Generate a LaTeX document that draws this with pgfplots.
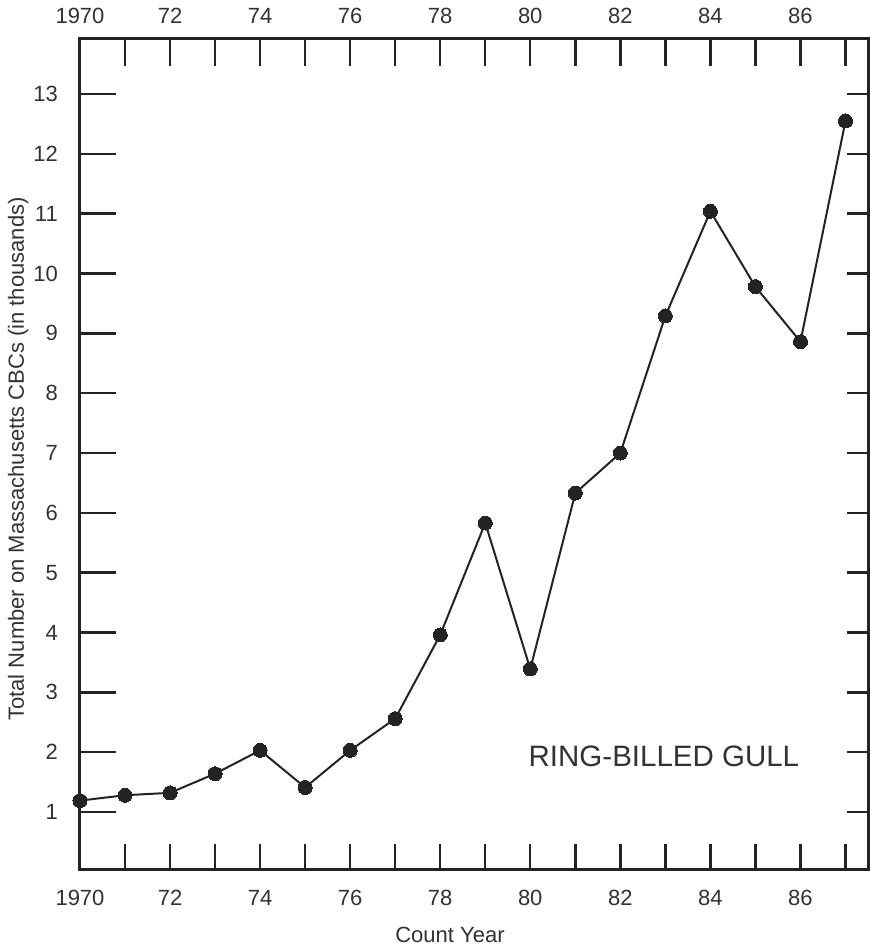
\documentclass[border=0pt]{standalone}
\usepackage{pgfplots}
\pgfplotsset{compat=1.18}
\usepackage{fontspec}
\setmainfont{Liberation Sans}
\definecolor{ink}{RGB}{35,35,35}
\definecolor{txt}{RGB}{50,50,50}
\pgfplotstableread{
year value
1970 1.19
1971 1.28
1972 1.32
1973 1.64
1974 2.03
1975 1.41
1976 2.03
1977 2.56
1978 3.96
1979 5.83
1980 3.39
1981 6.33
1982 7.00
1983 9.29
1984 11.04
1985 9.78
1986 8.86
1987 12.55
}\gulls
\begin{document}
\begin{tikzpicture}[font=\fontsize{22}{26}\selectfont]
\pgfplotsset{
  base/.style={
    scale only axis, width=788pt, height=830pt,
    xmin=1970, xmax=1987.5, ymin=0.047, ymax=13.92,
    axis line style={draw=none},
    tick style={ink, line width=2.5pt},
    tick align=inside,
    every tick label/.append style={inner sep=0pt, text=txt},
    /pgf/number format/assume math mode=true,
    clip=false,
  },
}
% main axis: box, data, bottom ticks
\begin{axis}[base,
  axis line style={draw=ink, line width=3pt, line join=miter},
  xtick={1970,...,1987},
  xticklabels={1970,,72,,74,,76,,78,,80,,82,,84,,86,},
  xtick pos=left, xticklabel pos=left,
  xticklabel style={anchor=north, yshift=-21pt},
  major tick length=25pt,
  ytick=\empty,
]
\addplot[ink, line width=2pt, mark=*, mark size=7pt,
  mark options={fill=ink, draw=ink, line width=0pt}] table[x=year, y=value] {\gulls};
\coordinate (SW) at (rel axis cs:0,0);
\coordinate (NE) at (rel axis cs:1,1);
\node[anchor=base west, inner sep=0pt, text=txt, font=\fontsize{29.5}{34}\selectfont]
  at (axis cs:1979.96,1.753) {RING-BILLED GULL};
\node[anchor=base, inner sep=0pt, text=txt]
  at ([yshift=-73pt]rel axis cs:0.4695,0) {Count Year};
\node[anchor=base, rotate=90, inner sep=0pt, text=txt]
  at ([xshift=-56pt]rel axis cs:0,0.494) {Total Number on Massachusetts CBCs (in thousands)};
\end{axis}
% top ticks
\begin{axis}[base,
  xtick={1970,...,1987},
  xticklabels={1970,,72,,74,,76,,78,,80,,82,,84,,86,},
  xtick pos=right, xticklabel pos=right,
  xticklabel style={anchor=south, yshift=15pt},
  major tick length=27pt,
  ytick=\empty,
]
\end{axis}
% left ticks
\begin{axis}[base,
  xtick=\empty,
  ytick={1,...,13},
  ytick pos=left, yticklabel pos=left,
  yticklabel style={anchor=east, xshift=-22pt},
  major tick length=36pt,
]
\end{axis}
% right ticks
\begin{axis}[base,
  xtick=\empty,
  ytick={1,...,13},
  ytick pos=right,
  yticklabels={},
  major tick length=21pt,
]
\end{axis}
\pgfresetboundingbox
\path[use as bounding box] ([shift={(-80pt,-77pt)}]SW) rectangle ([shift={(1pt,39pt)}]NE);
\end{tikzpicture}
\end{document}
